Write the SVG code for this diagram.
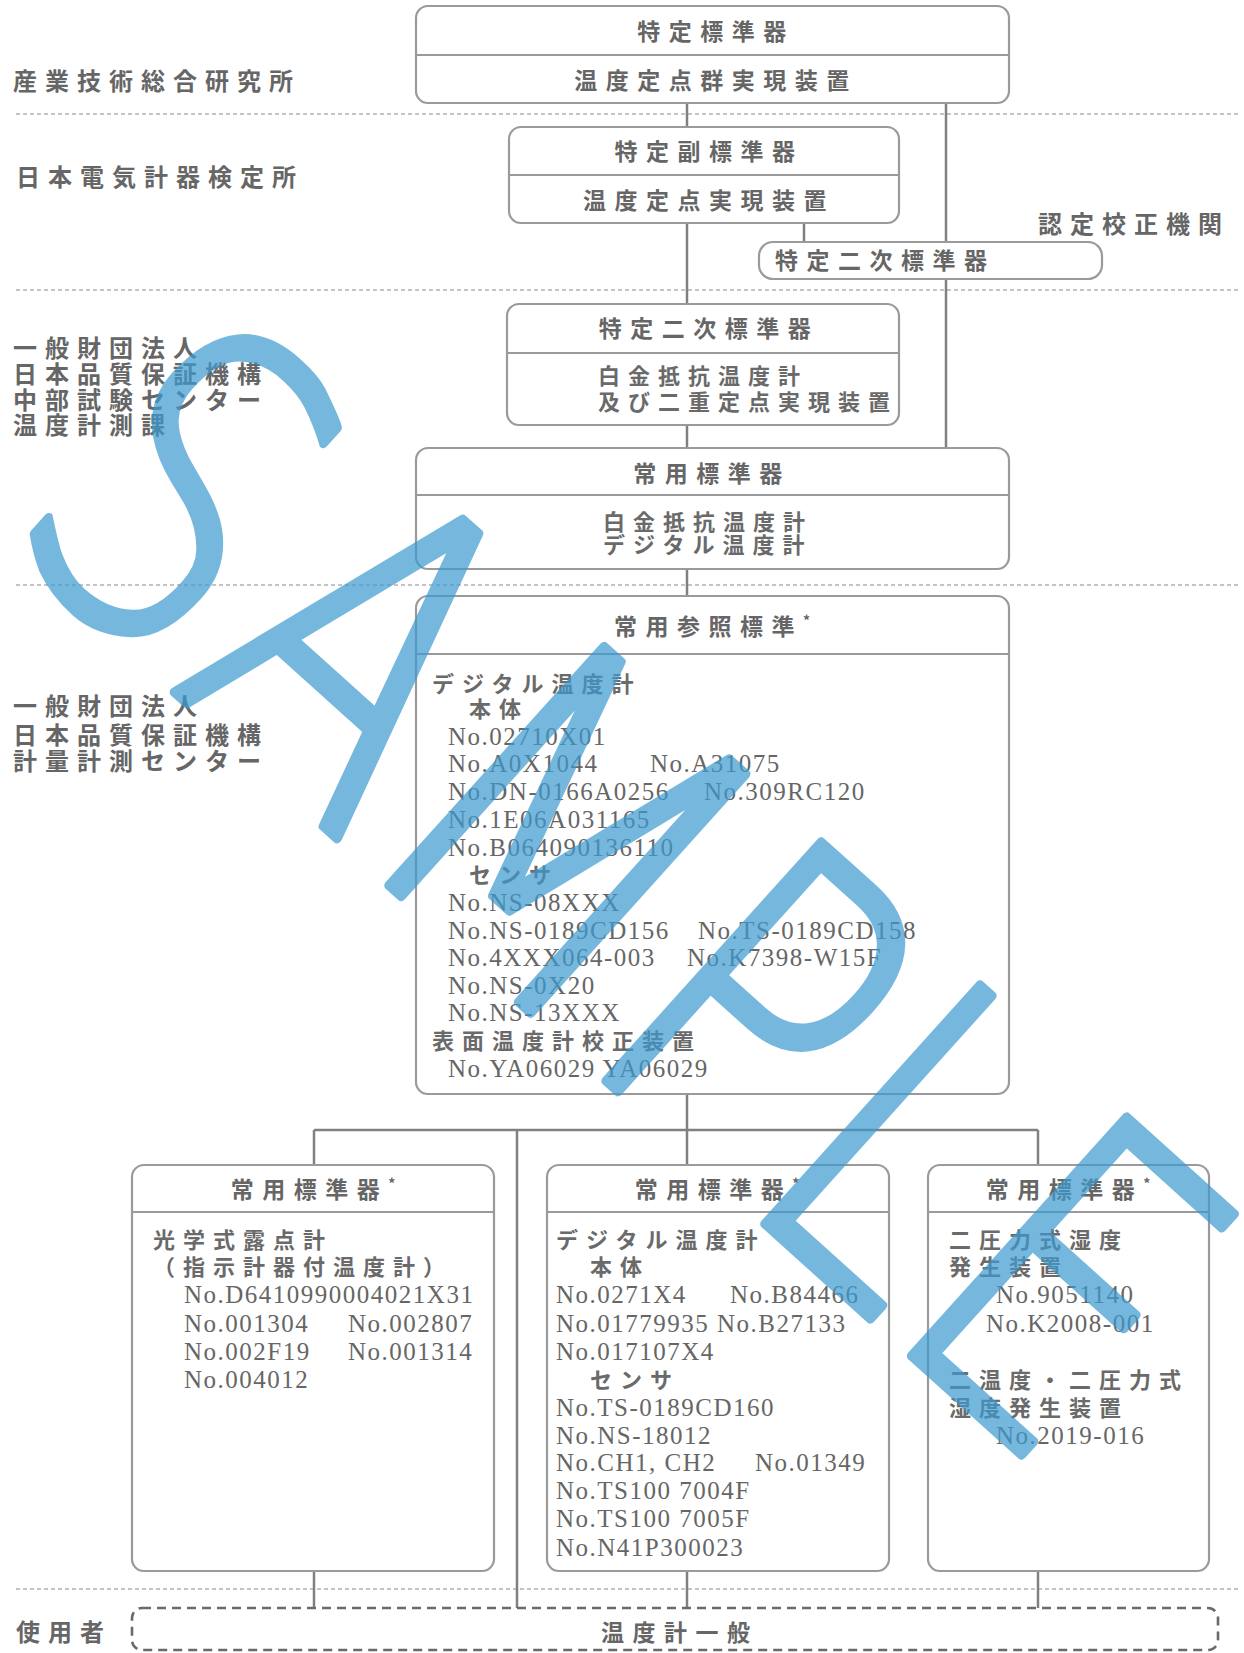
<svg xmlns="http://www.w3.org/2000/svg" width="1244" height="1653" viewBox="0 0 1244 1653">
<style>
.bx{fill:#fff;stroke:#9a9a9a;stroke-width:2.2}
.dv{stroke:#9a9a9a;stroke-width:2.2}
.cn{stroke:#808080;stroke-width:2.5;fill:none}
.sep{stroke:#c4c4c4;stroke-width:2;stroke-dasharray:4 3;fill:none}
.jt{font-family:"Noto Sans CJK JP","Noto Sans CJK SC",sans-serif;font-size:23px;fill:#666;letter-spacing:8.5px;font-weight:bold}
.jc{text-anchor:middle}
.jb{font-family:"Noto Sans CJK JP","Noto Sans CJK SC",sans-serif;font-size:22px;fill:#6a6a6a;letter-spacing:8px;font-weight:bold}
.lb{font-family:"Noto Sans CJK JP","Noto Sans CJK SC",sans-serif;font-size:24px;fill:#666;letter-spacing:8px;font-weight:bold}
.nr{font-family:"Liberation Serif",serif;font-size:25px;fill:#666;letter-spacing:1.5px}
.sup{font-size:14px;letter-spacing:0}
</style>

<g id="separators">
<line class="sep" x1="16" y1="114" x2="1239" y2="114"/>
<line class="sep" x1="16" y1="290" x2="1239" y2="290"/>
<line class="sep" x1="16" y1="585" x2="1239" y2="585"/>
<line class="sep" x1="16" y1="1589" x2="1239" y2="1589"/>
</g>

<g id="labels">
<text class="lb" x="13" y="90">産業技術総合研究所</text>
<text class="lb" x="16" y="186">日本電気計器検定所</text>
<text class="lb" x="1038" y="233">認定校正機関</text>
<text class="lb" x="13" y="357">一般財団法人</text>
<text class="lb" x="13" y="383">日本品質保証機構</text>
<text class="lb" x="13" y="409">中部試験センター</text>
<text class="lb" x="13" y="434">温度計測課</text>
<text class="lb" x="13" y="715">一般財団法人</text>
<text class="lb" x="13" y="744">日本品質保証機構</text>
<text class="lb" x="13" y="770">計量計測センター</text>
<text class="lb" x="16" y="1641">使用者</text>
</g>

<g id="connectors">
<line class="cn" x1="687" y1="103" x2="687" y2="127"/>
<line class="cn" x1="687" y1="223" x2="687" y2="304"/>
<line class="cn" x1="804" y1="223" x2="804" y2="242"/>
<line class="cn" x1="946" y1="103" x2="946" y2="448"/>
<line class="cn" x1="687" y1="425" x2="687" y2="448"/>
<line class="cn" x1="687" y1="569" x2="687" y2="596"/>
<line class="cn" x1="687" y1="1094" x2="687" y2="1130"/>
<line class="cn" x1="314" y1="1130" x2="1038" y2="1130"/>
<line class="cn" x1="314" y1="1130" x2="314" y2="1165"/>
<line class="cn" x1="687" y1="1130" x2="687" y2="1165"/>
<line class="cn" x1="1038" y1="1130" x2="1038" y2="1165"/>
<line class="cn" x1="517" y1="1130" x2="517" y2="1608"/>
<line class="cn" x1="314" y1="1571" x2="314" y2="1608"/>
<line class="cn" x1="687" y1="1571" x2="687" y2="1608"/>
<line class="cn" x1="1038" y1="1571" x2="1038" y2="1608"/>
</g>

<g id="n1">
<rect class="bx" x="416" y="6" width="593" height="97" rx="12"/>
<line class="dv" x1="416" y1="55" x2="1009" y2="55"/>
<text class="jt jc" x="716" y="40">特定標準器</text>
<text class="jt jc" x="716" y="89">温度定点群実現装置</text>
</g>

<g id="n2">
<rect class="bx" x="509" y="127" width="390" height="96" rx="12"/>
<line class="dv" x1="509" y1="175" x2="899" y2="175"/>
<text class="jt jc" x="709" y="160">特定副標準器</text>
<text class="jt jc" x="709" y="209">温度定点実現装置</text>
</g>

<g id="n3">
<rect class="bx" x="759" y="242" width="343" height="37" rx="14"/>
<text class="jt" x="775" y="269">特定二次標準器</text>
</g>

<g id="n4">
<rect class="bx" x="507" y="304" width="392" height="121" rx="12"/>
<line class="dv" x1="507" y1="353" x2="899" y2="353"/>
<text class="jt jc" x="709" y="337">特定二次標準器</text>
<text class="jb" x="598" y="384">白金抵抗温度計</text>
<text class="jb" x="598" y="410">及び二重定点実現装置</text>
</g>

<g id="n5">
<rect class="bx" x="416" y="448" width="593" height="121" rx="12"/>
<line class="dv" x1="416" y1="495" x2="1009" y2="495"/>
<text class="jt jc" x="712" y="482">常用標準器</text>
<text class="jb" x="603" y="530">白金抵抗温度計</text>
<text class="jb" x="603" y="553">デジタル温度計</text>
</g>

<g id="n6">
<rect class="bx" x="416" y="596" width="593" height="498" rx="12"/>
<line class="dv" x1="416" y1="654" x2="1009" y2="654"/>
<text class="jt jc" x="712" y="635">常用参照標準<tspan class="sup" dy="-9">*</tspan></text>
<text class="jb" x="432" y="692">デジタル温度計</text>
<text class="jb" x="469" y="717">本体</text>
<text class="nr" x="448" y="745">No.02710X01</text>
<text class="nr" x="448" y="772">No.A0X1044</text>
<text class="nr" x="650" y="772">No.A31075</text>
<text class="nr" x="448" y="800">No.DN-0166A0256</text>
<text class="nr" x="704" y="800">No.309RC120</text>
<text class="nr" x="448" y="828">No.1E06A031165</text>
<text class="nr" x="448" y="856">No.B064090136110</text>
<text class="jb" x="469" y="883">センサ</text>
<text class="nr" x="448" y="911">No.NS-08XXX</text>
<text class="nr" x="448" y="939">No.NS-0189CD156</text>
<text class="nr" x="698" y="939">No.TS-0189CD158</text>
<text class="nr" x="448" y="966">No.4XXX064-003</text>
<text class="nr" x="687" y="966">No.K7398-W15F</text>
<text class="nr" x="448" y="994">No.NS-0X20</text>
<text class="nr" x="448" y="1021">No.NS-13XXX</text>
<text class="jb" x="432" y="1049">表面温度計校正装置</text>
<text class="nr" x="448" y="1077">No.YA06029 YA06029</text>
</g>

<g id="n7">
<rect class="bx" x="132" y="1165" width="362" height="406" rx="12"/>
<line class="dv" x1="132" y1="1212" x2="494" y2="1212"/>
<text class="jt jc" x="313" y="1198">常用標準器<tspan class="sup" dy="-9">*</tspan></text>
<text class="jb" x="153" y="1248">光学式露点計</text>
<text class="jb" x="153" y="1275" letter-spacing="4">（指示計器付温度計）</text>
<text class="nr" x="184" y="1303" letter-spacing="0.3">No.D6410990004021X31</text>
<text class="nr" x="184" y="1332">No.001304</text>
<text class="nr" x="348" y="1332">No.002807</text>
<text class="nr" x="184" y="1360">No.002F19</text>
<text class="nr" x="348" y="1360">No.001314</text>
<text class="nr" x="184" y="1388">No.004012</text>
</g>

<g id="n8">
<rect class="bx" x="547" y="1165" width="342" height="406" rx="12"/>
<line class="dv" x1="547" y1="1212" x2="889" y2="1212"/>
<text class="jt jc" x="717" y="1198">常用標準器<tspan class="sup" dy="-9">*</tspan></text>
<text class="jb" x="556" y="1248">デジタル温度計</text>
<text class="jb" x="590" y="1275">本体</text>
<text class="nr" x="556" y="1303">No.0271X4</text>
<text class="nr" x="730" y="1303">No.B84466</text>
<text class="nr" x="556" y="1332">No.01779935</text>
<text class="nr" x="717" y="1332">No.B27133</text>
<text class="nr" x="556" y="1360">No.017107X4</text>
<text class="jb" x="590" y="1388">センサ</text>
<text class="nr" x="556" y="1416">No.TS-0189CD160</text>
<text class="nr" x="556" y="1444">No.NS-18012</text>
<text class="nr" x="556" y="1471">No.CH1, CH2</text>
<text class="nr" x="755" y="1471">No.01349</text>
<text class="nr" x="556" y="1499">No.TS100 7004F</text>
<text class="nr" x="556" y="1527">No.TS100 7005F</text>
<text class="nr" x="556" y="1556">No.N41P300023</text>
</g>

<g id="n9">
<rect class="bx" x="928" y="1165" width="281" height="406" rx="12"/>
<line class="dv" x1="928" y1="1212" x2="1209" y2="1212"/>
<text class="jt jc" x="1068" y="1198">常用標準器<tspan class="sup" dy="-9">*</tspan></text>
<text class="jb" x="949" y="1248">二圧力式湿度</text>
<text class="jb" x="949" y="1275">発生装置</text>
<text class="nr" x="996" y="1303">No.9051140</text>
<text class="nr" x="986" y="1332">No.K2008-001</text>
<text class="jb" x="949" y="1388" letter-spacing="3">二温度・二圧力式</text>
<text class="jb" x="949" y="1416">湿度発生装置</text>
<text class="nr" x="996" y="1444">No.2019-016</text>
</g>

<g id="n10">
<rect x="132" y="1608" width="1086" height="42" rx="10" fill="#fff" stroke="#6a6a6a" stroke-width="2.6" stroke-dasharray="9 6"/>
<text class="jt" x="601" y="1641">温度計一般</text>
</g>

<g id="watermark" opacity="0.7">
<text transform="translate(627,884) rotate(42)" x="0" y="160" text-anchor="middle" textLength="1415" lengthAdjust="spacingAndGlyphs" font-family="DejaVu Sans ExtraLight, DejaVu Sans, sans-serif" font-weight="200" font-size="440" fill="#3d9ad0" stroke="#3d9ad0" stroke-width="10" stroke-linejoin="round">SAMPLE</text>
</g>
</svg>
